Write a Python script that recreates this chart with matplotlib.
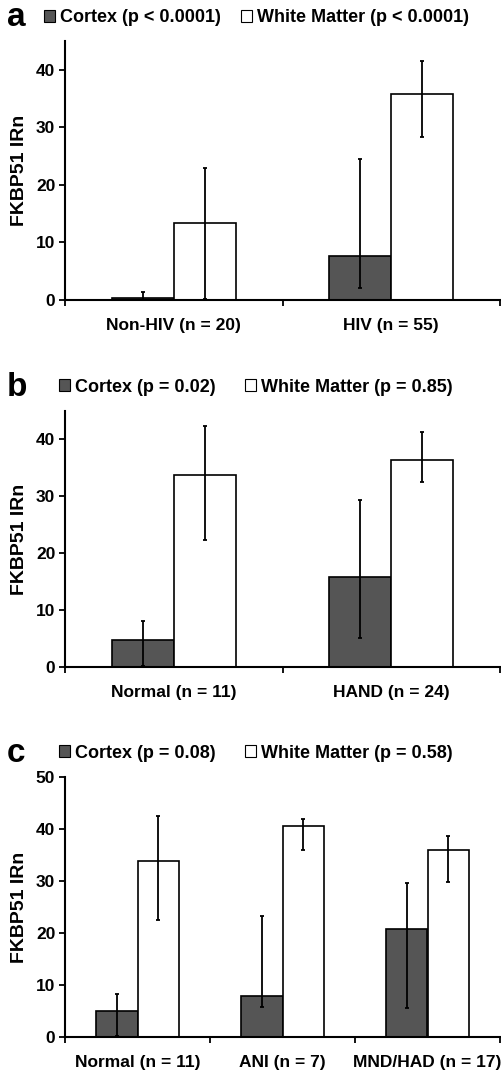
import numpy as np
import matplotlib.pyplot as plt
from matplotlib.patches import Patch

plt.rcParams['font.family'] = ['Liberation Sans', 'DejaVu Sans']
plt.rcParams['font.weight'] = 'bold'

W, H = 501, 1075
dark = '#555555'

# panel a
a_groups = ['Non-HIV (n = 20)', 'HIV (n = 55)']
a_cortex = [0.4, 7.7]
a_cortex_lo = [0.0, 2.1]
a_cortex_hi = [1.4, 24.5]
a_white = [13.3, 35.8]
a_white_lo = [0.2, 28.4]
a_white_hi = [22.9, 41.6]
a_legend = ['Cortex (p < 0.0001)', 'White Matter (p < 0.0001)']

# panel b
b_groups = ['Normal (n = 11)', 'HAND (n = 24)']
b_cortex = [4.8, 15.8]
b_cortex_lo = [0.2, 5.1]
b_cortex_hi = [8.0, 29.4]
b_white = [33.7, 36.3]
b_white_lo = [22.3, 32.6]
b_white_hi = [42.3, 41.3]
b_legend = ['Cortex (p = 0.02)', 'White Matter (p = 0.85)']

# panel c
c_groups = ['Normal (n = 11)', 'ANI (n = 7)', 'MND/HAD (n = 17)']
c_cortex = [5.0, 7.8, 20.7]
c_cortex_lo = [0.2, 5.8, 5.5]
c_cortex_hi = [8.2, 23.3, 29.6]
c_white = [33.9, 40.6, 36.0]
c_white_lo = [22.5, 36.0, 29.9]
c_white_hi = [42.5, 41.9, 38.7]
c_legend = ['Cortex (p = 0.08)', 'White Matter (p = 0.58)']


def panel(fig, box, letter, groups, cortex, c_lo, c_hi, white, w_lo, w_hi,
          legend, ymax, yticks, leg_x, leg_y, colspace):
    left, top, right, bottom = box
    ax = fig.add_axes([left / W, 1 - bottom / H, (right - left) / W, (bottom - top) / H])
    n = len(groups)
    x = np.arange(n)
    bw = 0.285
    cortex = np.array(cortex)
    white = np.array(white)
    c_err = [cortex - np.array(c_lo), np.array(c_hi) - cortex]
    w_err = [white - np.array(w_lo), np.array(w_hi) - white]
    ekw = dict(ecolor='black', elinewidth=1.3, capsize=1.5, capthick=1.3)
    ax.bar(x - bw / 2, cortex, bw, color=dark, edgecolor='black', linewidth=1.2,
           yerr=c_err, error_kw=ekw)
    ax.bar(x + bw / 2, white, bw, color='white', edgecolor='black', linewidth=1.2,
           yerr=w_err, error_kw=ekw)
    ax.set_xlim(-0.5, n - 0.5)
    ax.set_ylim(0, ymax)
    ax.set_yticks(yticks)
    ax.set_xticks(np.arange(n + 1) - 0.5)
    ax.set_xticklabels([])
    ax.set_xticks(x, minor=True)
    ax.set_xticklabels(groups, minor=True, fontsize=12.5, fontweight='bold')
    ax.tick_params(axis='x', which='minor', length=0, pad=13)
    ax.tick_params(axis='x', which='major', length=4, width=1.3, direction='out')
    ax.tick_params(axis='y', length=4, width=1.3, direction='out', pad=3, labelsize=12.5)
    for s in ['top', 'right']:
        ax.spines[s].set_visible(False)
    for s in ['left', 'bottom']:
        ax.spines[s].set_linewidth(1.5)
    ax.set_ylabel('FKBP51 IRn', fontsize=14, fontweight='bold')
    ax.yaxis.set_label_coords((28 - left) / (right - left), 0.5)
    handles = [Patch(facecolor=dark, edgecolor='black', linewidth=0.8),
               Patch(facecolor='white', edgecolor='black', linewidth=0.8)]
    fig.legend(handles, legend, loc='center left', bbox_to_anchor=(leg_x / W, 1 - leg_y / H),
               ncol=2, frameon=False, borderpad=0, borderaxespad=0,
               handlelength=0.6, handleheight=0.6, handletextpad=0.3,
               columnspacing=colspace, prop={'size': 13, 'weight': 'bold'})
    fig.text(7 / W, 1 - leg_y / H, letter, fontsize=24, fontweight='bold', va='center', ha='left')
    return ax


fig = plt.figure(figsize=(W / 100, H / 100), dpi=100)
panel(fig, (65, 41, 500, 300), 'a', a_groups, a_cortex, a_cortex_lo, a_cortex_hi,
      a_white, a_white_lo, a_white_hi, a_legend, 45, [0, 10, 20, 30, 40], 44, 18, 1.1)
panel(fig, (65, 411, 500, 667), 'b', b_groups, b_cortex, b_cortex_lo, b_cortex_hi,
      b_white, b_white_lo, b_white_hi, b_legend, 45, [0, 10, 20, 30, 40], 59, 387, 1.6)
panel(fig, (65, 777, 500, 1037), 'c', c_groups, c_cortex, c_cortex_lo, c_cortex_hi,
      c_white, c_white_lo, c_white_hi, c_legend, 50, [0, 10, 20, 30, 40, 50], 59, 753, 1.6)

fig.savefig('out.png', dpi=100)
